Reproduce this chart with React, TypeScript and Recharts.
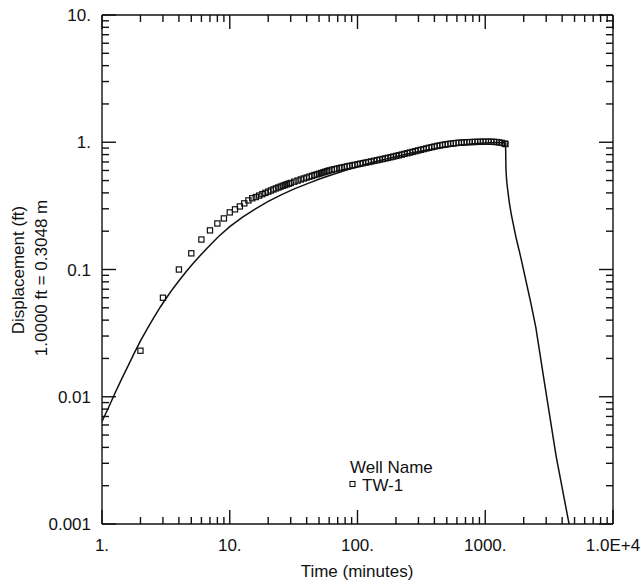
import React from "react";
import { ComposedChart, XAxis, YAxis, Scatter, Line, Customized } from "recharts";

// observed drawdown, TW-1
const obsTime = [
  2, 3, 4, 5, 6, 7, 8, 9, 10, 11, 12, 13, 14, 15,
  16, 17, 18, 19, 20, 21, 22, 23, 24, 25, 26, 27, 28, 29, 30,
  32, 34, 36, 38, 40, 42, 44, 46, 48, 50, 52, 54, 56, 58,
  60, 63, 66, 69, 72, 75, 79, 83, 87, 91, 95, 100, 105, 110, 116, 122, 128,
  135, 142, 149, 157, 165, 173, 182, 191, 201, 211, 222, 233, 245, 257, 270,
  284, 298, 313, 329, 346, 363, 381, 400, 420, 441, 463, 486, 510, 536, 563,
  591, 620, 651, 684, 718, 754, 792, 831, 873, 916, 962, 1010, 1060, 1113,
  1169, 1227, 1288, 1352, 1420, 1440,
];
const obsDisp = [
  0.023, 0.06, 0.1, 0.134, 0.172, 0.203, 0.23, 0.252, 0.281, 0.297, 0.313, 0.331, 0.349, 0.363,
  0.371, 0.381, 0.391, 0.4, 0.409, 0.418, 0.426, 0.434, 0.441, 0.448, 0.455, 0.461, 0.467, 0.473, 0.479,
  0.49, 0.5, 0.51, 0.519, 0.528, 0.536, 0.544, 0.552, 0.559, 0.566, 0.573, 0.58, 0.587, 0.593,
  0.6, 0.607, 0.614, 0.62, 0.626, 0.632, 0.639, 0.646, 0.652, 0.658, 0.664, 0.671, 0.678, 0.685, 0.692, 0.699, 0.706,
  0.714, 0.722, 0.73, 0.738, 0.746, 0.754, 0.763, 0.772, 0.781, 0.79, 0.8, 0.81, 0.82, 0.83, 0.84,
  0.851, 0.862, 0.872, 0.883, 0.894, 0.905, 0.915, 0.925, 0.935, 0.944, 0.953, 0.961, 0.968, 0.975, 0.981,
  0.986, 0.99, 0.994, 0.997, 1.0, 1.002, 1.004, 1.006, 1.007, 1.008, 1.009, 1.01, 1.01, 1.009,
  1.007, 1.003, 0.997, 0.988, 0.975, 0.968,
];

// type curve (pumping + recovery)
const fitTime = [
  1, 1.13, 1.26, 1.42, 1.6, 1.8, 2, 2.27, 2.55, 2.87, 3.2, 3.6, 4.06, 4.55, 5.1, 5.8, 6.7, 8.1, 10,
  12.6, 15.9, 20, 25.5, 32, 40.6, 51, 64.8, 82, 103, 130, 165, 210, 264, 335, 422, 535,
  673, 850, 1075, 1280, 1400, 1440, 1445, 1452, 1465, 1480, 1500, 1540, 1600, 1738, 1900,
  2080, 2280, 2490, 2890, 3590, 4530,
];
const fitDisp = [
  0.0064, 0.0083, 0.0106, 0.0137, 0.0175, 0.0223, 0.0275, 0.0345, 0.042, 0.051, 0.06, 0.071, 0.083,
  0.096, 0.11, 0.127, 0.148, 0.18, 0.217,
  0.258, 0.3, 0.343, 0.388, 0.43, 0.473, 0.516, 0.56, 0.604, 0.648, 0.692, 0.737, 0.78, 0.822, 0.862,
  0.898, 0.93, 0.958, 0.979, 0.992, 0.995, 0.99, 0.985, 0.86, 0.62, 0.53, 0.47, 0.42, 0.34, 0.27,
  0.18, 0.124, 0.082, 0.054, 0.035, 0.0134, 0.0034, 0.001,
];

const xTicks = [
  1, 2, 3, 4, 5, 6, 7, 8, 9, 10, 20, 30, 40, 50, 60, 70, 80, 90,
  100, 200, 300, 400, 500, 600, 700, 800, 900, 1000, 2000, 3000, 4000, 5000, 6000, 7000, 8000, 9000, 10000,
];
const xMajor = [1, 10, 100, 1000, 10000];
const xLabels = ["1.", "10.", "100.", "1000.", "1.0E+4"];
const yTicks = [
  0.001, 0.002, 0.003, 0.004, 0.005, 0.006, 0.007, 0.008, 0.009,
  0.01, 0.02, 0.03, 0.04, 0.05, 0.06, 0.07, 0.08, 0.09,
  0.1, 0.2, 0.3, 0.4, 0.5, 0.6, 0.7, 0.8, 0.9, 1, 2, 3, 4, 5, 6, 7, 8, 9, 10,
];
const yMajor = [0.001, 0.01, 0.1, 1, 10];
const yLabels = ["0.001", "0.01", "0.1", "1.", "10."];

const obsData = obsTime.map((t, i) => ({ t, d: obsDisp[i] }));
const fitData = fitTime.map((t, i) => ({ t, d: fitDisp[i] }));

const FONT = "'Liberation Sans', Arial, Helvetica, sans-serif";
const INK = "#111111";
const MAJOR = 14;
const MINOR = 7;

// plot box (chart margins are 0, so this follows from the axis sizes below)
const W = 641;
const H = 587;
const LEFT_W = 102;
const RIGHT_W = 28;
const TOP_H = 15;
const BOTTOM_H = 63;
const PL = LEFT_W;
const PR = W - RIGHT_W;
const PT = TOP_H;
const PB = H - BOTTOM_H;
const xPx = (t: number) => PL + (Math.log10(t) / 4) * (PR - PL);
const yPx = (d: number) => PB - ((Math.log10(d) + 3) / 4) * (PB - PT);

const BottomLabel = (props: any) => {
  const idx = xMajor.indexOf(props.payload.value);
  if (idx < 0) return <g />;
  return (
    <text x={Number(props.x)} y={Number(props.y) + 27} textAnchor="middle" fill={INK} fontSize={17} fontFamily={FONT}>
      {xLabels[idx]}
    </text>
  );
};

const LeftLabel = (props: any) => {
  const idx = yMajor.indexOf(props.payload.value);
  if (idx < 0) return <g />;
  return (
    <text x={Number(props.x) - 11} y={Number(props.y)} dy="0.36em" textAnchor="end" fill={INK} fontSize={17} fontFamily={FONT}>
      {yLabels[idx]}
    </text>
  );
};

const Square = (props: any) => {
  const { cx, cy } = props;
  if (cx == null || cy == null) return <g />;
  return <rect x={cx - 2.6} y={cy - 2.6} width={5.2} height={5.2} fill="none" stroke={INK} strokeWidth={1.2} />;
};

const Overlay = () => (
  <g>
    <g stroke={INK} strokeWidth={1.4}>
      {xTicks.map((t) => {
        const x = xPx(t);
        const len = xMajor.includes(t) ? MAJOR : MINOR;
        return (
          <g key={`x${t}`}>
            <line x1={x} x2={x} y1={PB} y2={PB - len} stroke={INK} strokeWidth={1.4} />
            <line x1={x} x2={x} y1={PT} y2={PT + len} stroke={INK} strokeWidth={1.4} />
          </g>
        );
      })}
      {yTicks.map((d) => {
        const y = yPx(d);
        const len = yMajor.includes(d) ? MAJOR : MINOR;
        return (
          <g key={`y${d}`}>
            <line x1={PL} x2={PL + len} y1={y} y2={y} stroke={INK} strokeWidth={1.4} />
            <line x1={PR} x2={PR - len} y1={y} y2={y} stroke={INK} strokeWidth={1.4} />
          </g>
        );
      })}
    </g>
    <g fontFamily={FONT} fill={INK} fontSize={17}>
      <text x={357} y={577} textAnchor="middle">Time (minutes)</text>
      <text transform="translate(24,270) rotate(-90)" textAnchor="middle">Displacement (ft)</text>
      <text transform="translate(47,278) rotate(-90)" textAnchor="middle">1.0000 ft = 0.3048 m</text>
      <text x={350} y={473}>Well Name</text>
      <rect x={350} y={481.5} width={5} height={5} fill="none" stroke={INK} strokeWidth={1.1} />
      <text x={362} y={491}>TW-1</text>
    </g>
  </g>
);

const axisLine = { stroke: INK, strokeWidth: 1.4 };

export default function App() {
  return (
    <div style={{ position: "absolute", left: 0, top: 0 }}>
      <ComposedChart width={W} height={H} margin={{ top: 0, right: 0, bottom: 0, left: 0 }}>
        <XAxis
          dataKey="t" type="number" scale="log" domain={[1, 10000]} allowDataOverflow
          ticks={xTicks} interval={0} tickSize={0} tickMargin={0} tickLine={false}
          axisLine={axisLine} height={BOTTOM_H} tick={BottomLabel}
        />
        <XAxis
          xAxisId="top" orientation="top" dataKey="t" type="number" scale="log" domain={[1, 10000]}
          allowDataOverflow ticks={xTicks} interval={0} tickSize={0} tickMargin={0} tickLine={false}
          axisLine={axisLine} height={TOP_H} tick={false}
        />
        <YAxis
          dataKey="d" type="number" scale="log" domain={[0.001, 10]} allowDataOverflow
          ticks={yTicks} interval={0} tickSize={0} tickMargin={0} tickLine={false}
          axisLine={axisLine} width={LEFT_W} tick={LeftLabel}
        />
        <YAxis
          yAxisId="right" orientation="right" dataKey="d" type="number" scale="log" domain={[0.001, 10]}
          allowDataOverflow ticks={yTicks} interval={0} tickSize={0} tickMargin={0} tickLine={false}
          axisLine={axisLine} width={RIGHT_W} tick={false}
        />
        <Line
          data={fitData} dataKey="d" type="linear" stroke={INK} strokeWidth={1.5}
          dot={false} activeDot={false} isAnimationActive={false}
        />
        <Scatter data={obsData} dataKey="d" name="TW-1" shape={Square} isAnimationActive={false} />
        <Customized component={Overlay} />
      </ComposedChart>
    </div>
  );
}
